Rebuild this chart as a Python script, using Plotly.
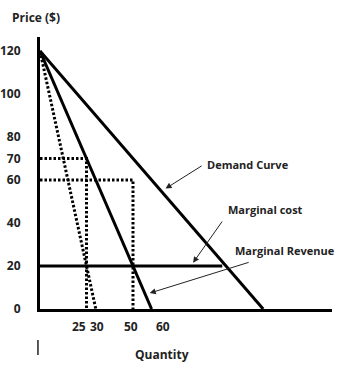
import plotly.graph_objects as go

# ---- data (economic units) ----
demand_q = [0, 120]
demand_p = [120, 0]
mr_q = [0, 60]
mr_p = [120, 0]
steep_q = [0, 30]
steep_p = [120, 0]
mc_q = [0, 98]
mc_p = [20, 20]
guide70_q = [0, 25, 25]
guide70_p = [70, 70, 0]
guide60_q = [0, 50, 50]
guide60_p = [60, 60, 0]

y_ticks = [0, 20, 40, 60, 70, 80, 100, 120]
x_ticks = [25, 30, 50, 60]
x_tick_shift = [-8, 1, -2, 11]   # hand-drawn label offsets (px)

FONT = "Open Sans"
TXT = "#222222"

fig = go.Figure()

solid = dict(color="black", width=3)
dotted = dict(color="black", width=3, dash="2.5px,2px")

fig.add_trace(go.Scatter(x=demand_q, y=demand_p, mode="lines", line=solid, hoverinfo="skip"))
fig.add_trace(go.Scatter(x=mr_q, y=mr_p, mode="lines", line=solid, hoverinfo="skip"))
fig.add_trace(go.Scatter(x=mc_q, y=mc_p, mode="lines", line=solid, hoverinfo="skip"))
fig.add_trace(go.Scatter(x=steep_q, y=steep_p, mode="lines", line=dotted, hoverinfo="skip"))
fig.add_trace(go.Scatter(x=guide70_q, y=guide70_p, mode="lines", line=dotted, hoverinfo="skip"))
fig.add_trace(go.Scatter(x=guide60_q, y=guide60_p, mode="lines", line=dotted, hoverinfo="skip"))

lab_font = dict(family=FONT, size=11, color=TXT, weight="bold")
tick_font = dict(family=FONT, size=12, color=TXT, weight="bold")
title_font = dict(family=FONT, size=12, color=TXT, weight="bold")

# x tick labels (hand-placed in the original drawing)
for v, sh in zip(x_ticks, x_tick_shift):
    fig.add_annotation(x=v, xref="x", y=-0.066, yref="paper", text=str(v),
                       showarrow=False, xanchor="center", yanchor="middle",
                       xshift=sh, font=tick_font)

# labels
fig.add_annotation(x=88.8, y=67, text="Demand Curve", showarrow=False,
                   xanchor="left", yanchor="middle", font=lab_font)
fig.add_annotation(x=121.4, y=46.5, text="Marginal cost", showarrow=False,
                   xanchor="center", yanchor="middle", font=lab_font)
fig.add_annotation(x=131.6, y=27.4, text="Marginal Revenue", showarrow=False,
                   xanchor="center", yanchor="middle", font=lab_font)

# arrows
arrow_common = dict(text="", showarrow=True, arrowhead=2, arrowsize=1.2,
                    arrowwidth=1, arrowcolor="#222222", axref="x", ayref="y",
                    standoff=0, startstandoff=0)
fig.add_annotation(x=67.5, y=56, ax=87.7, ay=67, **arrow_common)
fig.add_annotation(x=82.3, y=21.5, ax=98.5, ay=41.4, **arrow_common)
fig.add_annotation(x=59, y=7.4, ax=113, ay=21.9, **arrow_common)

# axis titles
fig.add_annotation(xref="paper", yref="paper", x=-0.0137, y=1.0735,
                   text="Price ($)", showarrow=False, xanchor="center",
                   yanchor="middle", font=title_font)
fig.add_annotation(xref="paper", yref="paper", x=0.418, y=-0.169,
                   text="Quantity", showarrow=False, xanchor="center",
                   yanchor="middle", font=title_font)

# stray mark under the axis
fig.add_shape(type="line", xref="paper", yref="paper", x0=-0.007, x1=-0.007,
              y0=-0.114, y1=-0.169, line=dict(color="#222222", width=1.5))

fig.update_layout(
    width=350, height=369,
    margin=dict(l=40, r=18, t=37, b=60, autoexpand=False),
    paper_bgcolor="white", plot_bgcolor="white",
    showlegend=False,
    xaxis=dict(range=[0, 157], showgrid=False, zeroline=False, automargin=False,
               showline=True, linecolor="black", linewidth=3,
               showticklabels=False, ticks=""),
    yaxis=dict(range=[0, 126.5], showgrid=False, zeroline=False, automargin=False,
               showline=True, linecolor="black", linewidth=3,
               tickmode="array", tickvals=y_ticks, ticktext=[str(v) for v in y_ticks],
               ticks="", ticklabelstandoff=14,
               tickfont=tick_font),
)

fig.write_html("out.html")
